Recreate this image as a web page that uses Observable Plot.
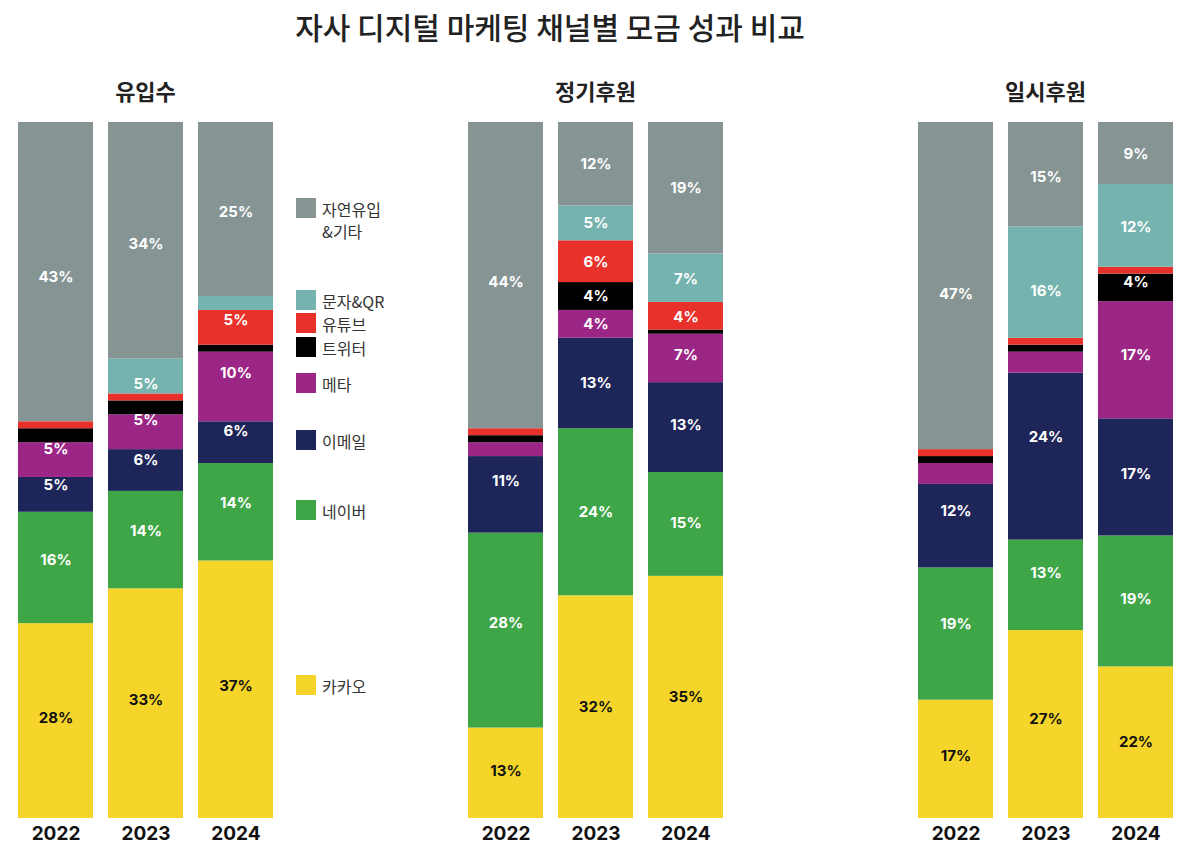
<!DOCTYPE html>
<html><head><meta charset="utf-8">
<script src="https://cdn.jsdelivr.net/npm/d3@7"></script>
<script src="https://cdn.jsdelivr.net/npm/@observablehq/plot@0.6"></script>
<style>
body{margin:0;width:1192px;height:862px;position:relative;background:#fff;font-family:"Noto Sans CJK KR","Noto Sans",sans-serif;color:#222}
.t{position:absolute;font-weight:700}
.p{position:absolute;top:0}
.lg{position:absolute;left:296px;font-size:16px;color:#333;line-height:22px}
.lg span{position:absolute;left:0;top:0;width:20px;height:20px}
.lg div{margin-left:26px}
</style></head><body>
<div class="t" style="left:0;width:1100px;top:4px;text-align:center;font-size:30px;font-weight:500">자사 디지털 마케팅 채널별 모금 성과 비교</div>
<div id="root"></div>
<script>
const years = ["2022","2023","2024"];
const channels = ["카카오","네이버","이메일","메타","트위터","유튜브","문자&QR","자연유입&기타"]; // bottom to top
const colors = ["#f5d52a","#3fa648","#1e2559","#9b2685","#000000","#e8312a","#74b3ae","#869594"];
const panelTitles = ["유입수","정기후원","일시후원"];
// values per year, in channel order
const visits = [[28,16,5,5,2,1,0,43],[33,14,6,5,2,1,5,34],[37,14,6,10,1,5,2,25]];
const regular = [[13,28,11,2,1,1,0,44],[32,24,13,4,4,6,5,12],[35,15,13,7,0.6,4,7,19]];
const oneTime = [[17,19,12,3,1,1,0,47],[27,13,24,3,1,1,16,15],[22,19,17,17,4,1,12,9]];
const panels = [visits, regular, oneTime];
const lefts = [0,450,900];

panels.forEach((vals,pi)=>{
  const data = [];
  years.forEach((y,yi)=>channels.forEach((c,ci)=>data.push({year:y,channel:c,value:vals[yi][ci]})));
  const opts = {x:"year",y:"value",z:"channel",order:channels,offset:"normalize"};
  const chart = Plot.plot({
    width:290,height:850,marginLeft:18,marginRight:17,marginTop:122,marginBottom:32,
    x:{domain:years,paddingInner:0.167,paddingOuter:0,label:null,tickSize:0,tickPadding:8},
    y:{axis:null},
    color:{domain:channels,range:colors},
    style:{fontFamily:"Inter, 'Noto Sans', sans-serif",fontSize:"19px",fontWeight:700,color:"#111"},
    marks:[
      Plot.barY(data,Plot.stackY({...opts,fill:"channel"})),
      Plot.text(data,Plot.stackY({...opts,filter:d=>d.value>=4,text:d=>Math.round(d.value)+"%",
        fill:d=>d.channel==="카카오"?"#111":"#fff",fontSize:15,fontWeight:700}))
    ]
  });
  const div=document.createElement("div");div.className="p";div.style.left=lefts[pi]+"px";
  div.appendChild(chart);document.body.appendChild(div);
  const t=document.createElement("div");t.className="t";t.textContent=panelTitles[pi];
  t.style.cssText=`left:${lefts[pi]+18}px;width:255px;top:74px;text-align:center;font-size:22px`;
  document.body.appendChild(t);
});
const legendTop=[198,290,313,337,373,430,500,675];
const legendOrder=[7,6,5,4,3,2,1,0];
legendOrder.forEach((ci,i)=>{
  const d=document.createElement("div");d.className="lg";d.style.top=legendTop[i]+"px";
  const label = channels[ci]==="자연유입&기타" ? "자연유입<br>&기타" : channels[ci];
  d.innerHTML=`<span style="background:${colors[ci]}"></span><div>${label}</div>`;
  document.body.appendChild(d);
});
</script></body></html>
